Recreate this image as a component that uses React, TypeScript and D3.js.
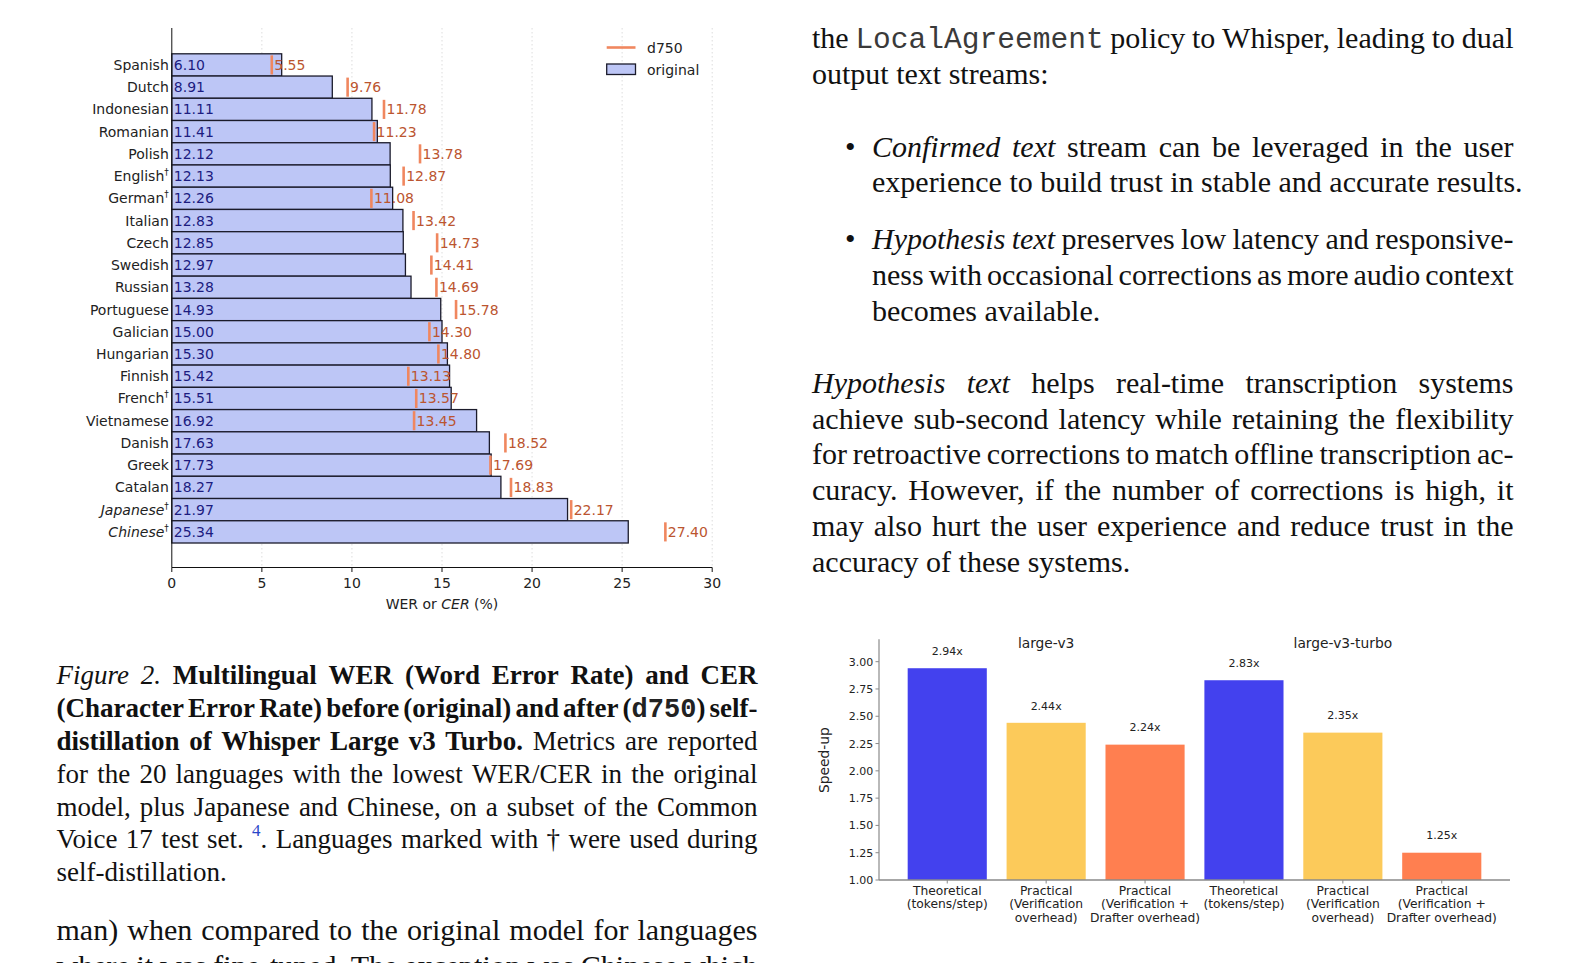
import React from 'react';
import * as d3 from 'd3';

// ---------- Chart data ----------
const languages = ['Spanish', 'Dutch', 'Indonesian', 'Romanian', 'Polish', 'English', 'German', 'Italian', 'Czech', 'Swedish', 'Russian', 'Portuguese', 'Galician', 'Hungarian', 'Finnish', 'French', 'Vietnamese', 'Danish', 'Greek', 'Catalan', 'Japanese', 'Chinese'];
const daggerLangs = ['English', 'German', 'French', 'Japanese', 'Chinese'];
const italicLangs = ['Japanese', 'Chinese'];
const originalWER = [6.10, 8.91, 11.11, 11.41, 12.12, 12.13, 12.26, 12.83, 12.85, 12.97, 13.28, 14.93, 15.00, 15.30, 15.42, 15.51, 16.92, 17.63, 17.73, 18.27, 21.97, 25.34];
const d750WER = [5.55, 9.76, 11.78, 11.23, 13.78, 12.87, 11.08, 13.42, 14.73, 14.41, 14.69, 15.78, 14.30, 14.80, 13.13, 13.57, 13.45, 18.52, 17.69, 18.83, 22.17, 27.40];
const werTicks = [0, 5, 10, 15, 20, 25, 30];

const speedCategories = [
  ['Theoretical', '(tokens/step)'],
  ['Practical', '(Verification', 'overhead)'],
  ['Practical', '(Verification +', 'Drafter overhead)'],
  ['Theoretical', '(tokens/step)'],
  ['Practical', '(Verification', 'overhead)'],
  ['Practical', '(Verification +', 'Drafter overhead)'],
];
const speedValues = [2.94, 2.44, 2.24, 2.83, 2.35, 1.25];
const speedColors = ['#4341EE', '#FCCA5A', '#FF7F50', '#4341EE', '#FCCA5A', '#FF7F50'];
const modelTitles = ['large-v3', 'large-v3-turbo'];
const modelTitleIndex = [1, 4];
const speedTicks = [1.0, 1.25, 1.5, 1.75, 2.0, 2.25, 2.5, 2.75, 3.0];

// ---------- Text content ----------
type Seg = [string, string];
const rightIntro: Seg[][] = [
  [['r', 'the '], ['m', 'LocalAgreement'], ['r', ' policy to Whisper, leading to dual']],
  [['r', 'output text streams:']],
];
const bullet1: Seg[][] = [
  [['i', 'Confirmed text'], ['r', ' stream can be leveraged in the user']],
  [['r', 'experience to build trust in stable and accurate results.']],
];
const bullet2: Seg[][] = [
  [['i', 'Hypothesis text'], ['r', ' preserves low latency and responsive-']],
  [['r', 'ness with occasional corrections as more audio context']],
  [['r', 'becomes available.']],
];
const para: Seg[][] = [
  [['i', 'Hypothesis text'], ['r', ' helps real-time transcription systems']],
  [['r', 'achieve sub-second latency while retaining the flexibility']],
  [['r', 'for retroactive corrections to match offline transcription ac-']],
  [['r', 'curacy. However, if the number of corrections is high, it']],
  [['r', 'may also hurt the user experience and reduce trust in the']],
  [['r', 'accuracy of these systems.']],
];
const caption: Seg[][] = [
  [['i', 'Figure 2.'], ['b', ' Multilingual WER (Word Error Rate) and CER']],
  [['b', '(Character Error Rate) before (original) and after ('], ['mb', 'd750'], ['b', ') self-']],
  [['b', 'distillation of Whisper Large v3 Turbo.'], ['r', ' Metrics are reported']],
  [['r', 'for the 20 languages with the lowest WER/CER in the original']],
  [['r', 'model, plus Japanese and Chinese, on a subset of the Common']],
  [['r', 'Voice 17 test set. '], ['sup', '4'], ['r', '. Languages marked with \u2020 were used during']],
  [['r', 'self-distillation.']],
];
const leftBody: Seg[][] = [
  [['r', 'man) when compared to the original model for languages']],
  [['r', 'where it was fine-tuned. The exception was Chinese which']],
];

const SERIF = "'Liberation Serif', 'Times New Roman', Times, serif";
const MONO = "'Liberation Mono', 'Courier New', monospace";
const SANS = "'DejaVu Sans', Verdana, sans-serif";

type SegStyle = { family: string; style: string; weight: string; size: number; dy: number; fill: string };
function segStyle(st: string, size: number): SegStyle {
  const base = { family: SERIF, style: 'normal', weight: 'normal', size, dy: 0, fill: '#111' };
  if (st === 'i') return { ...base, style: 'italic' };
  if (st === 'b') return { ...base, weight: 'bold' };
  if (st === 'm') return { ...base, family: MONO, size: size * 0.985, fill: '#3a3a3a' };
  if (st === 'mb') return { ...base, family: MONO, weight: 'bold', fill: '#222' };
  if (st === 'sup') return { ...base, size: size * 0.63, dy: -size * 0.46, fill: '#2846c8' };
  return base;
}

let ctx: CanvasRenderingContext2D | null = null;
function measure(text: string, s: SegStyle): number {
  if (!ctx) ctx = document.createElement('canvas').getContext('2d');
  if (!ctx) return text.length * s.size * 0.45;
  ctx.font = `${s.style} ${s.weight} ${s.size}px ${s.family}`;
  return ctx.measureText(text).width;
}

function TextBlock({ lines, x0, x1, y0, lh, size, justifyLast = false, prefix = 'b' }:
  { lines: Seg[][]; x0: number; x1: number; y0: number; lh: number; size: number; justifyLast?: boolean; prefix?: string }) {
  const out: React.ReactNode[] = [];
  lines.forEach((segs, li) => {
    const justify = li < lines.length - 1 || justifyLast;
    const words: { st: string; text: string }[][] = [];
    let cur: { st: string; text: string }[] = [];
    segs.forEach(([st, txt]) => {
      txt.split(' ').forEach((p, idx) => {
        if (idx > 0) { if (cur.length) words.push(cur); cur = []; }
        if (p) cur.push({ st, text: p });
      });
    });
    if (cur.length) words.push(cur);
    const widths = words.map(w => w.reduce((s, g) => s + measure(g.text, segStyle(g.st, size)), 0));
    const total = widths.reduce((a, b) => a + b, 0);
    const spaceW = measure(' ', segStyle('r', size));
    const gap = justify && words.length > 1 ? (x1 - x0 - total) / (words.length - 1) : spaceW;
    const y = y0 + li * lh;
    let x = x0;
    words.forEach((w, wi) => {
      let sx = x;
      w.forEach((g, gi) => {
        const s = segStyle(g.st, size);
        out.push(
          <text key={`${prefix}-${li}-${wi}-${gi}`} x={sx} y={y + s.dy} fontFamily={s.family} fontStyle={s.style}
            fontWeight={s.weight} fontSize={s.size} fill={s.fill}>{g.text}</text>
        );
        sx += measure(g.text, s);
      });
      x += widths[wi] + gap;
    });
  });
  return <g>{out}</g>;
}

function WerChart() {
  const x = d3.scaleLinear().domain([0, 30]).range([171.8, 712.2]);
  const y = d3.scaleBand<string>().domain(languages).range([53.8, 543]).padding(0);
  const bw = y.bandwidth();
  const top = 28;
  const bottom = 567.5;
  const markerColor = '#F0875F';
  return (
    <g fontFamily={SANS} fontSize={14}>
      {werTicks.slice(1).map(t => (
        <line key={`g${t}`} x1={x(t)} x2={x(t)} y1={top} y2={bottom} stroke="#d4d4d4" strokeWidth={0.8} strokeDasharray="1.5,2.5" />
      ))}
      {languages.map((l, i) => (
        <rect key={`bar${l}`} x={x(0)} y={y(l)} width={x(originalWER[i]) - x(0)} height={bw}
          fill="#BDC6F6" stroke="#1b1b2b" strokeWidth={1.3} />
      ))}
      {languages.map((l, i) => (
        <line key={`mk${l}`} x1={x(d750WER[i])} x2={x(d750WER[i])} y1={(y(l) as number) + bw * 0.07} y2={(y(l) as number) + bw * 0.93}
          stroke={markerColor} strokeWidth={2.6} />
      ))}
      {languages.map((l, i) => {
        const yc = (y(l) as number) + bw / 2;
        return (
          <g key={`txt${l}`}>
            <text x={x(0) + 2} y={yc + 5} fill="#1c1c80">{originalWER[i].toFixed(2)}</text>
            <text x={x(d750WER[i]) + 2.5} y={yc + 5} fill="#bb5530">{d750WER[i].toFixed(2)}</text>
            <text x={x(0) - 3} y={yc + 5} textAnchor="end" fill="#222" fontStyle={italicLangs.includes(l) ? 'italic' : 'normal'}>
              {l}
              {daggerLangs.includes(l) && <tspan fontSize={9} dy={-6} fontStyle="normal">{'\u2020'}</tspan>}
            </text>
          </g>
        );
      })}
      <line x1={x(0)} x2={x(0)} y1={top} y2={bottom} stroke="#111" strokeWidth={1} />
      <line x1={x(0)} x2={x(30)} y1={bottom} y2={bottom} stroke="#111" strokeWidth={1} />
      {werTicks.map(t => (
        <g key={`t${t}`}>
          <line x1={x(t)} x2={x(t)} y1={bottom} y2={bottom + 4.5} stroke="#111" strokeWidth={1} />
          <text x={x(t)} y={bottom + 20.5} textAnchor="middle" fill="#222">{t}</text>
        </g>
      ))}
      <text x={(x(0) + x(30)) / 2} y={bottom + 41} textAnchor="middle" fill="#222">
        WER or <tspan fontStyle="italic">CER</tspan> (%)
      </text>
      {/* legend */}
      <line x1={606.7} x2={635.5} y1={47.5} y2={47.5} stroke={markerColor} strokeWidth={2.6} />
      <text x={647} y={53} fill="#222">d750</text>
      <rect x={606.7} y={64} width={28.8} height={10.5} fill="#BDC6F6" stroke="#1b1b2b" strokeWidth={1.3} />
      <text x={647} y={74.5} fill="#222">original</text>
    </g>
  );
}

function SpeedChart() {
  const x = d3.scaleLinear().domain([-0.69, 5.69]).range([879, 1510]);
  const y = d3.scaleLinear().domain([1, 3.205]).range([880, 639.3]);
  const axisColor = '#8a8a8a';
  return (
    <g fontFamily={SANS} fill="#222">
      {speedValues.map((v, i) => (
        <rect key={`sb${i}`} x={x(i - 0.4)} y={y(v)} width={x(i + 0.4) - x(i - 0.4)} height={y(1) - y(v)} fill={speedColors[i]} />
      ))}
      {speedValues.map((v, i) => (
        <text key={`sl${i}`} x={x(i)} y={y(v + 0.158) + 4} textAnchor="middle" fontSize={11}>{v.toFixed(2)}x</text>
      ))}
      {modelTitles.map((t, k) => (
        <text key={`mt${k}`} x={x(modelTitleIndex[k])} y={y(3.174) + 5} textAnchor="middle" fontSize={13.8}>{t}</text>
      ))}
      <line x1={x(-0.69)} x2={x(-0.69)} y1={y(3.205)} y2={y(1)} stroke={axisColor} strokeWidth={1.2} />
      <line x1={x(-0.69)} x2={x(5.69)} y1={y(1)} y2={y(1)} stroke={axisColor} strokeWidth={1.5} />
      {speedTicks.map(t => (
        <g key={`yt${t}`}>
          <line x1={x(-0.69) - 3.5} x2={x(-0.69)} y1={y(t)} y2={y(t)} stroke={axisColor} strokeWidth={1} />
          <text x={x(-0.69) - 5.8} y={y(t) + 4} textAnchor="end" fontSize={11}>{t.toFixed(2)}</text>
        </g>
      ))}
      {speedCategories.map((lines, i) => (
        <g key={`xc${i}`}>
          <line x1={x(i)} x2={x(i)} y1={y(1)} y2={y(1) + 3.5} stroke={axisColor} strokeWidth={1} />
          {lines.map((ln, j) => (
            <text key={j} x={x(i)} y={y(1) + 14.5 + j * 13.9} textAnchor="middle" fontSize={12.3}>{ln}</text>
          ))}
        </g>
      ))}
      <text transform={`translate(${x(-0.69) - 55},${(y(1) + y(3.205)) / 2 + 0.5}) rotate(-90)`} textAnchor="middle"
        dominantBaseline="central" fontSize={13.8}>Speed-up</text>
    </g>
  );
}

export default function App() {
  return (
    <svg width={1575} height={963} style={{ position: 'absolute', left: 0, top: 0, background: '#fff' }}>
      <rect x={0} y={0} width={1575} height={963} fill="#fff" />
      <WerChart />
      <SpeedChart />
      <TextBlock lines={rightIntro} x0={812} x1={1513.5} y0={48.3} lh={35.9} size={30} prefix="ri" />
      <text x={845} y={156.5} fontFamily={SERIF} fontSize={30} fill="#111">{'\u2022'}</text>
      <TextBlock lines={bullet1} x0={872} x1={1513.5} y0={156.5} lh={35.9} size={30} prefix="b1" />
      <text x={845} y={249} fontFamily={SERIF} fontSize={30} fill="#111">{'\u2022'}</text>
      <TextBlock lines={bullet2} x0={872} x1={1513.5} y0={249} lh={35.9} size={30} prefix="b2" />
      <TextBlock lines={para} x0={812} x1={1513.5} y0={392.6} lh={35.9} size={30} prefix="pa" />
      <TextBlock lines={caption} x0={56.5} x1={757.5} y0={684.3} lh={32.8} size={27} prefix="ca" />
      <TextBlock lines={leftBody} x0={56.5} x1={757.5} y0={939.5} lh={36} size={30} justifyLast prefix="lb" />
    </svg>
  );
}
